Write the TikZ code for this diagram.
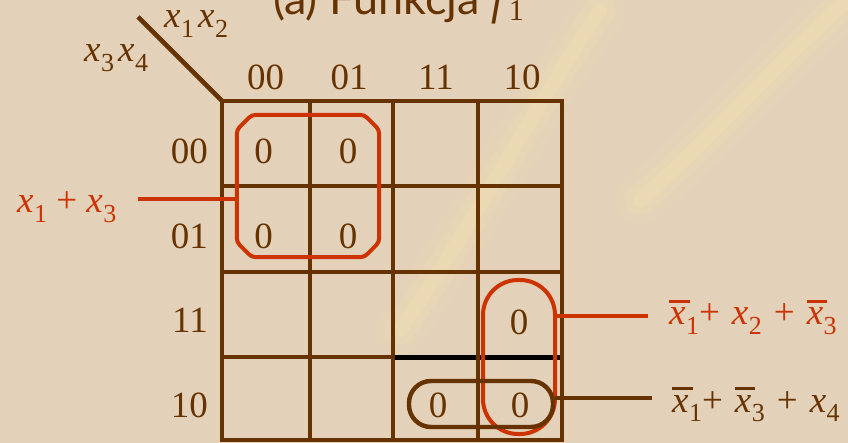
\documentclass[tikz,border=0pt]{standalone}
\usepackage{fontspec}
\setmainfont{Liberation Serif}
\newfontfamily\titlefont{Lato}
\usetikzlibrary{calc}
\definecolor{kmapbrown}{RGB}{102,51,0}
\definecolor{kmapred}{RGB}{204,51,0}
\definecolor{kmapbg}{RGB}{227,209,186}
\definecolor{kmapglow}{RGB}{247,232,168}
% variable with subscript, and the same with a bar over it
\newcommand{\xs}[1]{\textit{x}\kern0.5pt\raisebox{-0.26em}{\fontsize{26}{26}\selectfont #1}}
\newcommand{\xb}[1]{\rlap{\rule[0.6em]{0.55em}{2.8pt}}\xs{#1}}
\newcommand{\gap}{\hspace{12pt}}

\begin{document}
\begin{tikzpicture}[
    x=1pt, y=-1pt,
    font=\fontsize{37}{40}\selectfont,
    % Styles
    gridline/.style={draw=kmapbrown, line width=4.6pt, line cap=rect},
    cellval/.style={text=kmapbrown, inner sep=0pt},
    axislabel/.style={text=kmapbrown, inner sep=0pt},
    redloop/.style={draw=kmapred, line width=4pt, inner sep=0pt},
    brownloop/.style={draw=kmapbrown, line width=4.4pt, inner sep=0pt},
    tie/.style={line width=4pt}
]

% ----------------------------------------------------
% Background
% ----------------------------------------------------
\useasboundingbox (0,0) rectangle (848,443);
\clip (0,0) rectangle (848,443);
\fill[kmapbg] (0,0) rectangle (848,443);
\foreach \w/\o in {50/0.10, 30/0.16, 14/0.22} {
    \draw[kmapglow, line width=\w pt, opacity=\o, line cap=round] (400,330) .. controls (470,230) and (520,130) .. (600,10);
    \draw[kmapglow, line width=\w pt, opacity=\o, line cap=round] (640,200) .. controls (720,130) and (780,60) .. (848,0);
}

% Title (cut at the top)
\node[anchor=base west, inner sep=0pt, text=kmapbrown] (title) at (273,15)
    {\titlefont\fontsize{45}{45}\selectfont (a) Funkcja \rmfamily\textit{f}\raisebox{-0.12em}{\fontsize{30}{30}\selectfont 1}};

% ----------------------------------------------------
% Grid
% ----------------------------------------------------
\coordinate (corner) at (222,101);
\coordinate (diagtop) at (138,17);
\draw[gridline, line cap=butt] (diagtop) -- (corner);

\foreach \y in {101,186,272,440}
    \draw[gridline] (222,\y) -- (562,\y);
\draw[gridline] (222,357) -- (393,357);
\draw[line width=5pt, black] (393,357) -- (562,357);
\foreach \x in {222,310,393,478,562}
    \draw[gridline] (\x,101) -- (\x,440);

% Axis labels
\node[axislabel, anchor=base west] (vx12) at (164,28) {\xs{1}\hspace{4pt}\xs{2}};
\node[axislabel, anchor=base west] (vx34) at (84,62) {\xs{3}\hspace{4pt}\xs{4}};

\foreach \name/\x/\t in {c1/265.5/00, c2/349/01, c3/436/11, c4/522/10}
    \node[axislabel] (\name) at (\x,77) {\t};
\foreach \name/\y/\t in {r1/151/00, r2/236/01, r3/320/11, r4/405/10}
    \node[axislabel, anchor=east] (\name) at (208,\y) {\t};

% Cell values
\foreach \name/\x/\y in {z1/263.5/151, z2/348/151, z3/263.5/236, z4/348/236,
                         z5/519/322, z6/438/405, z7/520/405}
    \node[cellval] (\name) at (\x,\y) {0};

% ----------------------------------------------------
% Groups and their terms
% ----------------------------------------------------
% corner-cut loop round the four zeros
\node[inner sep=0pt, minimum width=142pt, minimum height=142pt] (g1) at (308,186) {};
\draw[redloop, rounded corners=4pt]
    ($(g1.north west)+(15,0)$) -- ($(g1.north east)+(-15,0)$) -- ($(g1.north east)+(0,15)$)
    -- ($(g1.south east)+(0,-15)$) -- ($(g1.south east)+(-15,0)$) -- ($(g1.south west)+(15,0)$)
    -- ($(g1.south west)+(0,-15)$) -- ($(g1.north west)+(0,15)$) -- cycle;
\node[redloop, rounded corners=35pt, minimum width=72pt, minimum height=154pt] (g2) at (519,357) {};
\node[brownloop, rounded corners=22pt, minimum width=144pt, minimum height=46pt] (g3) at (481,404) {};

\coordinate (t1) at (138,199);
\coordinate (t2) at (648,316);
\coordinate (t3) at (652,398);
\draw[tie, kmapred] (t1) -- (t1 -| g1.west);
\draw[tie, kmapred] (t2 -| g2.east) -- (t2);
\draw[tie, kmapbrown] (t3 -| g3.east) -- (t3);

\node[anchor=base west, inner sep=0pt, text=kmapred] (term1) at (17,213) {\xs{1} + \xs{3}};
\node[anchor=base west, inner sep=0pt, text=kmapred] (term2) at (669,325) {\xb{1}+\gap\xs{2}\gap+\gap\xb{3}};
\node[anchor=base west, inner sep=0pt, text=kmapbrown] (term3) at (672,412) {\xb{1}+\gap\xb{3}\gap+\gap\xs{4}};

\end{tikzpicture}
\end{document}
